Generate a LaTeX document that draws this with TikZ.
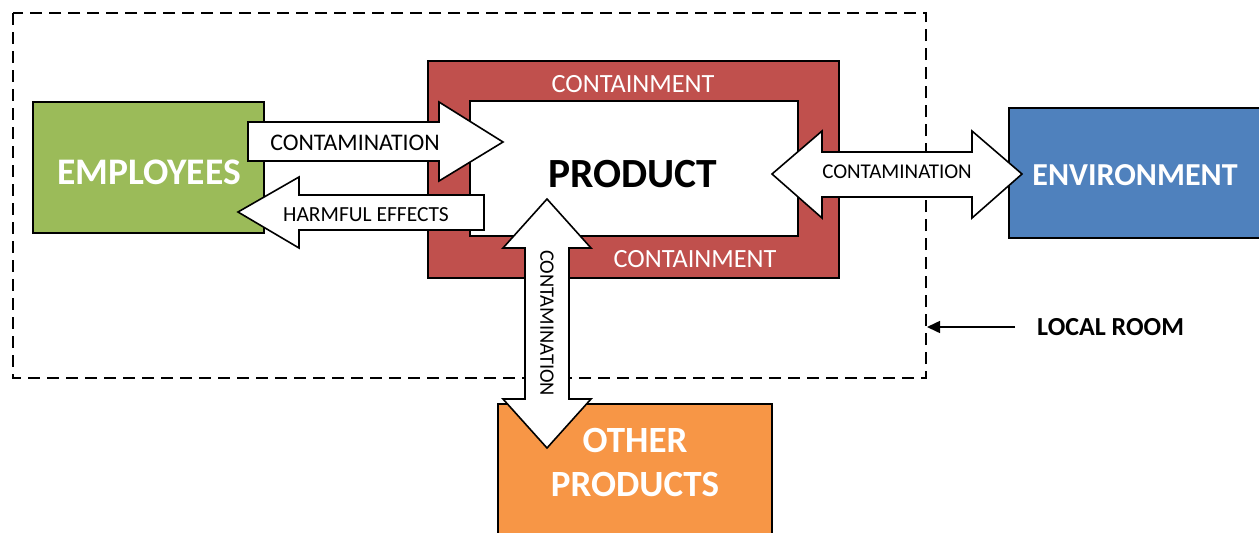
\documentclass[tikz,border=0pt]{standalone}
\usepackage{fontspec}
\setmainfont{Carlito}
\usetikzlibrary{arrows.meta}
\definecolor{empgreen}{HTML}{9BBB59}
\definecolor{contred}{HTML}{C0504D}
\definecolor{envblue}{HTML}{4F81BD}
\definecolor{othorange}{HTML}{F79646}
\tikzset{
  box/.style={draw=black, line width=1.6pt},
  blockarrow/.style={draw=black, fill=white, line width=1.6pt, line join=miter},
  bigtxt/.style={text=white, font=\bfseries\fontsize{#1}{#1}\selectfont, inner sep=0pt},
  smalltxt/.style={text=black, font=\fontsize{#1}{#1}\selectfont, inner sep=0pt},
  roomline/.style={draw=black, line width=1.6pt, dash pattern=on 12pt off 7pt},
}
\begin{document}
\begin{tikzpicture}[x=1pt, y=-1pt]
\useasboundingbox (0,0) rectangle (1259,533);

% local room boundary
\draw[roomline] (13,13) rectangle (926,378);

% blocks
\draw[box, fill=empgreen] (33,102) rectangle (264,233);
\draw[box, fill=contred] (428,61) rectangle (839,278);
\draw[box, fill=white] (470,101) rectangle (798,236);
\draw[box, fill=envblue] (1009,108) rectangle (1262,238);
\draw[box, fill=othorange] (498,404) rectangle (772,540);

% containment labels
\node[smalltxt=26.3, text=white, anchor=base] (conttop) at (633,92) {CONTAINMENT};
\node[smalltxt=26.3, text=white, anchor=base] (contbot) at (695,267) {CONTAINMENT};

% block labels
\node[bigtxt=37.5, anchor=base] (emp) at (149,184) {EMPLOYEES};
\node[bigtxt=32, anchor=base] (env) at (1135,185) {ENVIRONMENT};
\node[bigtxt=37, anchor=base] (oth1) at (635,452) {OTHER};
\node[bigtxt=37, anchor=base] (oth2) at (635,496) {PRODUCTS};

% employees -> product
\draw[blockarrow] (248,122) -- (439,122) -- (439,102) -- (503,142) -- (439,181) -- (439,161) -- (248,161) -- cycle;
\node[smalltxt=23.8, anchor=base] (c1) at (355,150) {CONTAMINATION};

% product -> employees
\draw[blockarrow] (484,195) -- (299,195) -- (299,177) -- (238,212) -- (299,248) -- (299,230) -- (484,230) -- cycle;
\node[smalltxt=21.5, anchor=base] (harm) at (366,221) {HARMFUL EFFECTS};

% product <-> environment
\draw[blockarrow] (772,174) -- (822,131) -- (822,152) -- (972,152) -- (972,131) -- (1022,174)
  -- (972,218) -- (972,197) -- (822,197) -- (822,218) -- cycle;
\node[smalltxt=21, anchor=base] (c2) at (897,178) {CONTAMINATION};

% product <-> other products
\draw[blockarrow] (547,199) -- (591,248) -- (569,248) -- (569,399) -- (591,399) -- (547,448)
  -- (503,399) -- (525,399) -- (525,248) -- (503,248) -- cycle;
\node[smalltxt=20.5, rotate=-90] (c3) at (547,323) {CONTAMINATION};

% product label
\node[bigtxt=41.5, text=black, anchor=base] (prod) at (633,187) {PRODUCT};

% local room pointer
\node[bigtxt=26, text=black, anchor=base west] (room) at (1037,335) {LOCAL ROOM};
\coordinate (roomstart) at (1015,327);
\coordinate (roomedge) at (927,327);
\draw[line width=1.6pt, -{Triangle[length=13pt,width=12pt]}] (roomstart) -- (roomedge);
\end{tikzpicture}
\end{document}
